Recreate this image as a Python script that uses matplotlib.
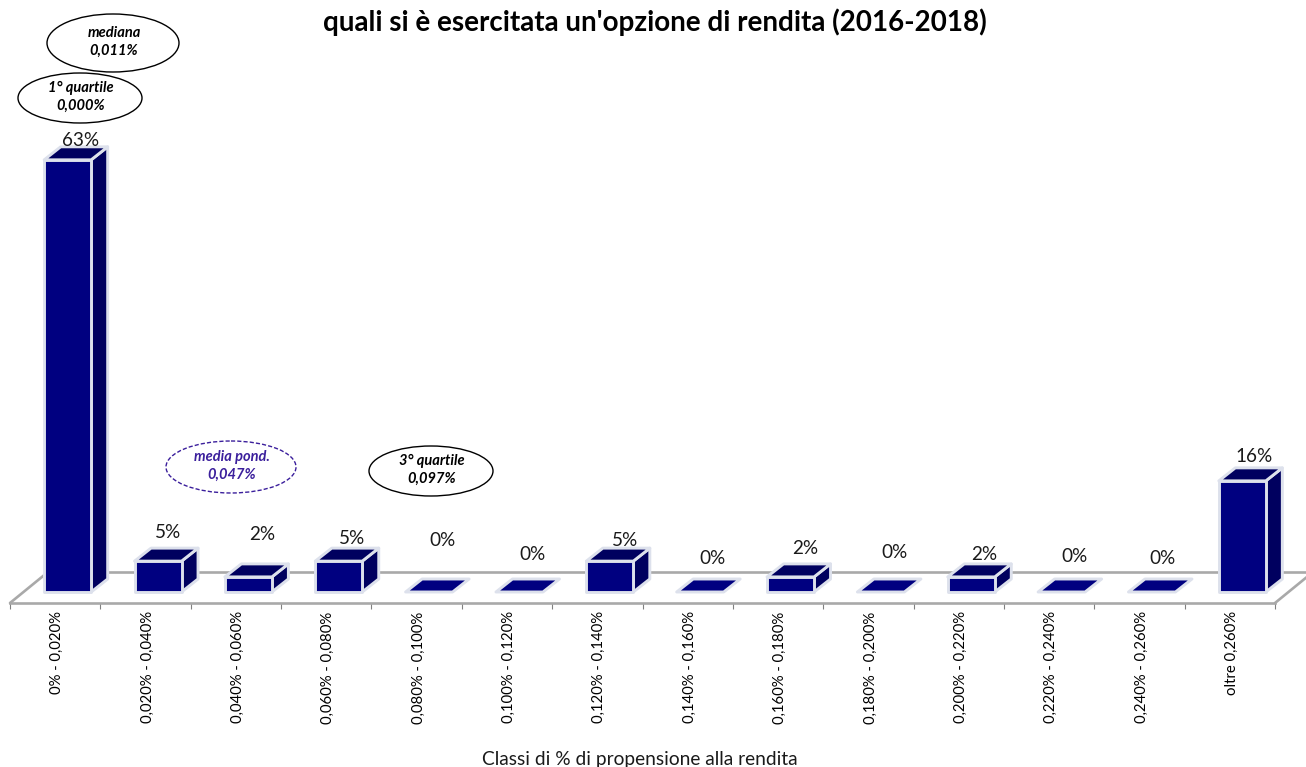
import matplotlib
matplotlib.use("Agg")
import matplotlib.pyplot as plt
from matplotlib.patches import Ellipse, Polygon
from matplotlib.lines import Line2D
from matplotlib.transforms import ScaledTranslation

categories = ["0% - 0,020%", "0,020% - 0,040%", "0,040% - 0,060%", "0,060% - 0,080%",
              "0,080% - 0,100%", "0,100% - 0,120%", "0,120% - 0,140%", "0,140% - 0,160%",
              "0,160% - 0,180%", "0,180% - 0,200%", "0,200% - 0,220%", "0,220% - 0,240%",
              "0,240% - 0,260%", "oltre 0,260%"]
values = [63.0, 4.5, 2.2, 4.5, 0, 0, 4.5, 0, 2.2, 0, 2.2, 0, 0, 16.2]
value_labels = ["63%", "5%", "2%", "5%", "0%", "0%", "5%", "0%", "2%", "0%", "2%", "0%", "0%", "16%"]
# value label placement in image pixels
label_x = [81, 168, 262, 352, 442, 532, 625, 713, 805, 894, 984, 1074, 1163, 1254]
label_y = [140, 532, 534, 539, 541, 555, 541, 558, 548, 553, 554, 556, 559, 457]

title = "quali si è esercitata un'opzione di rendita (2016-2018)"
xlabel = "Classi di % di propensione alla rendita"
callouts = [
    ("mediana\n0,011%", 113, 43, 132, 58, "black", "-", "black"),
    ("1° quartile\n0,000%", 80, 98, 124, 50, "black", "-", "black"),
    ("media pond.\n0,047%", 231, 467, 130, 52, "#3b1f9c", (0, (3, 1.5)), "#3b1f9c"),
    ("3° quartile\n0,097%", 431, 471, 124, 50, "black", "-", "black"),
]

W, H = 1306, 767
FONT = "Lato"
plt.rcParams["font.family"] = [FONT, "DejaVu Sans"]
fig = plt.figure(figsize=(W / 100, H / 100), dpi=100)
fig.patch.set_facecolor("white")

# axes: front floor edge is the bottom spine (pixel y=603), from x=10 to x=1275
AX_L, AX_R, AX_B = 10, 1275, 603
ax = fig.add_axes([AX_L / W, (H - AX_B) / H, (AX_R - AX_L) / W, AX_B / H])
ax.patch.set_visible(False)
PX_PER_PCT = 6.86
BASE_PX = 592
ax.set_xlim(-0.5, 13.5)
ax.set_ylim(-(AX_B - BASE_PX) / PX_PER_PCT, BASE_PX / PX_PER_PCT)
PX_PER_CAT = (AX_R - AX_L) / 14

def dx(p):
    return p / PX_PER_CAT

def dy(p):
    return p / PX_PER_PCT

def xpx(p):
    return -0.5 + (p - AX_L) / PX_PER_CAT

def ypx(p):
    return (BASE_PX - p) / PX_PER_PCT

GRAY = "#a9a9a9"
for s in ("top", "left", "right"):
    ax.spines[s].set_visible(False)
ax.spines["bottom"].set_color(GRAY)
ax.spines["bottom"].set_linewidth(1.9)
ax.yaxis.set_visible(False)
ax.set_xticks([i - 0.5 for i in range(15)])
ax.set_xticklabels([])
ax.set_xticks(range(14), labels=categories, minor=True)
ax.tick_params(axis="x", which="major", length=4, width=0.8, color="#808080")
ax.tick_params(axis="x", which="minor", length=0, pad=6, labelrotation=90, labelsize=10.7, labelcolor="black")
shift = ScaledTranslation(2 / 100, 0, fig.dpi_scale_trans)
for lab in ax.get_xticklabels(minor=True):
    lab.set_transform(lab.get_transform() + shift)

# floor back and side edges
floor = dict(color=GRAY, lw=1.9, clip_on=False, zorder=1, solid_capstyle="round")
ax.add_line(Line2D([xpx(10), xpx(48)], [ypx(603), ypx(572)], **floor))
ax.add_line(Line2D([xpx(48), xpx(1306)], [ypx(572), ypx(572)], **floor))
ax.add_line(Line2D([xpx(1275), xpx(1313)], [ypx(603), ypx(572)], **floor))

# bars
OFFSET = dx(12.5)
HALF = dx(23.5)
DX, DY = dx(16.5), dy(13)
FRONT, DARK, EDGE = "#000080", "#00005f", "#dde1ec"
for i, v in enumerate(values):
    l, r = i + OFFSET - HALF, i + OFFSET + HALF
    style = dict(edgecolor=EDGE, linewidth=2.1, joinstyle="round", zorder=3 + i * 0.01, clip_on=False)
    if v > 0:
        ax.add_patch(Polygon([(r, 0), (r + DX, DY), (r + DX, v + DY), (r, v)], facecolor=DARK, **style))
    ax.add_patch(Polygon([(l, v), (r, v), (r + DX, v + DY), (l + DX, v + DY)], facecolor=DARK if v > 0 else FRONT, **style))
    if v > 0:
        ax.add_patch(Polygon([(l, 0), (r, 0), (r, v), (l, v)], facecolor=FRONT, **style))
    ax.text(label_x[i] / W, 1 - label_y[i] / H, value_labels[i], transform=fig.transFigure,
            ha="center", va="center", fontsize=13.6, color="#1a1a1a", zorder=6)

# callouts
fig_ax = fig.add_axes([0, 0, 1, 1], zorder=5)
fig_ax.set_xlim(0, W)
fig_ax.set_ylim(H, 0)
fig_ax.axis("off")
for text, cx, cy, w, h, ec, ls, tc in callouts:
    fig_ax.add_patch(Ellipse((cx, cy), w, h, facecolor="none", edgecolor=ec, linewidth=1.0, linestyle=ls))
    fig_ax.text(cx + 1, cy - 1, text, ha="center", va="center", fontsize=10.5, fontstyle="italic",
                fontweight="bold", color=tc, linespacing=1.38)

fig_ax.text(655, 22, title, ha="center", va="center", fontsize=20, fontweight="bold", color="black")
fig_ax.text(640, 759, xlabel, ha="center", va="center", fontsize=13.75, color="#1a1a1a")

fig.savefig("out.png", dpi=100)
